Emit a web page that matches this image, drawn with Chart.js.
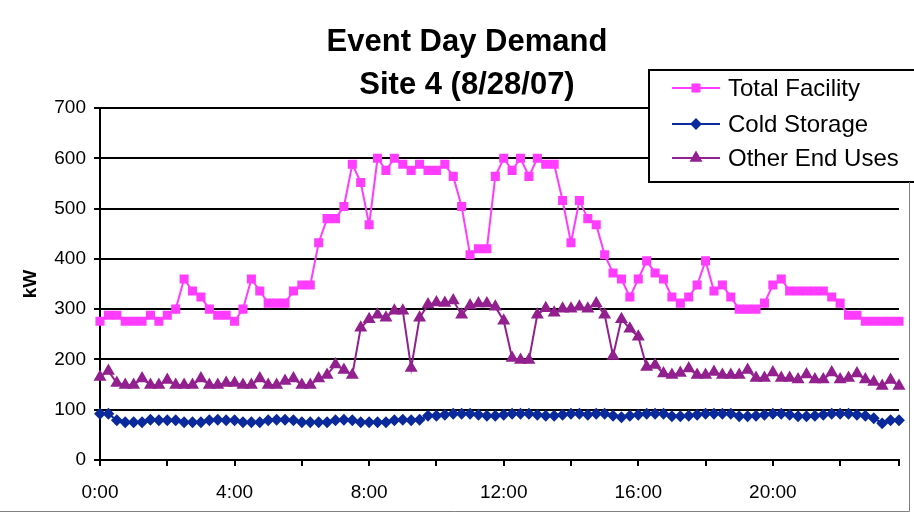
<!DOCTYPE html>
<html>
<head>
<meta charset="utf-8">
<script src="https://cdn.jsdelivr.net/npm/chart.js@4.4.0/dist/chart.umd.min.js"></script>
<style>
  html, body { margin: 0; padding: 0; background: #fff; }
</style>
</head>
<body>
<canvas id="myChart" width="914" height="514"></canvas>
<script>
// 15 minute readings for the event day
const times = [];
for (let h = 0; h < 24; h++) {
  for (let m = 0; m < 60; m += 15) {
    times.push(h + ':' + (m === 0 ? '00' : m));
  }
}

const totalFacility = [
  276, 288, 288, 276, 276, 276, 288, 276, 288, 300, 360, 336, 324, 300, 288, 288,
  276, 300, 360, 336, 312, 312, 312, 336, 348, 348, 432, 480, 480, 504, 588, 552,
  468, 600, 576, 600, 588, 576, 588, 576, 576, 588, 564, 504, 408, 420, 420, 564,
  600, 576, 600, 564, 600, 588, 588, 516, 432, 516, 480, 468, 408, 372, 360, 324,
  360, 396, 372, 360, 324, 312, 324, 348, 396, 336, 348, 324, 300, 300, 300, 312,
  348, 360, 336, 336, 336, 336, 336, 324, 312, 288, 288, 276, 276, 276, 276, 276
];
const coldStorage = [
  92, 92, 79, 75, 75, 75, 80, 79, 79, 79, 75, 75, 75, 79, 80, 79,
  79, 75, 75, 75, 79, 80, 80, 79, 75, 75, 75, 75, 79, 80, 79, 75,
  75, 75, 75, 79, 80, 79, 80, 88, 88, 90, 92, 92, 92, 90, 88, 88,
  90, 92, 92, 92, 90, 88, 88, 90, 92, 92, 90, 92, 92, 88, 85, 88,
  90, 92, 92, 92, 87, 87, 88, 90, 92, 92, 92, 92, 87, 87, 88, 90,
  92, 92, 90, 87, 87, 88, 90, 92, 92, 92, 90, 88, 83, 73, 79, 79
];
const otherEndUses = [
  165, 177, 153, 149, 149, 162, 149, 149, 159, 149, 149, 149, 162, 149, 149, 153,
  153, 149, 149, 162, 149, 149, 157, 162, 149, 149, 162, 169, 190, 179, 169, 263,
  280, 289, 283, 297, 297, 183, 283, 309, 313, 312, 317, 289, 307, 311, 311, 305,
  277, 203, 199, 199, 289, 302, 293, 301, 301, 305, 301, 311, 289, 207, 280, 261,
  245, 185, 189, 172, 169, 173, 182, 169, 169, 175, 169, 169, 169, 179, 163, 163,
  174, 163, 163, 160, 170, 160, 160, 174, 160, 163, 172, 160, 155, 147, 159, 147
];

const titleLines = ['Event Day Demand', 'Site 4 (8/28/07)'];
const font = "'Liberation Sans', Arial, sans-serif";

// title, legend box and outer frame, the way excel draws them
const decorations = {
  id: 'decorations',
  afterDraw(chart) {
    const ctx = chart.ctx;
    ctx.save();
    ctx.fillStyle = '#000';
    ctx.textAlign = 'center';
    ctx.textBaseline = 'middle';
    ctx.font = 'bold 31px ' + font;
    ctx.fillText(titleLines[0], 467, 42);
    ctx.fillText(titleLines[1], 467, 85);

    // legend
    ctx.fillStyle = '#fff';
    ctx.fillRect(649, 70, 265, 112);
    ctx.strokeStyle = '#000';
    ctx.lineWidth = 2;
    ctx.strokeRect(649, 70, 266, 112);
    const rows = [88, 124, 158];
    chart.data.datasets.forEach((ds, i) => {
      const y = rows[i];
      ctx.strokeStyle = ds.borderColor;
      ctx.lineWidth = 2;
      ctx.beginPath();
      ctx.moveTo(672, y);
      ctx.lineTo(720, y);
      ctx.stroke();
      ctx.fillStyle = ds.pointBackgroundColor;
      ctx.strokeStyle = ds.pointBorderColor;
      Chart.helpers.drawPoint(ctx, {
        pointStyle: ds.pointStyle, radius: ds.pointRadius, rotation: 0, borderWidth: 1
      }, 696, y);
      ctx.fillStyle = '#000';
      ctx.textAlign = 'left';
      ctx.font = '24px ' + font;
      ctx.fillText(ds.label, 728, y + 1);
    });

    // frame
    ctx.strokeStyle = '#808080';
    ctx.lineWidth = 1;
    ctx.beginPath();
    ctx.moveTo(909.5, 182);
    ctx.lineTo(909.5, 511.5);
    ctx.lineTo(0, 511.5);
    ctx.stroke();
    ctx.restore();
  }
};

const chartContext = document.getElementById('myChart').getContext('2d');
const myChart = new Chart(chartContext, {
  type: 'line',
  data: {
    labels: times,
    datasets: [{
      label: 'Total Facility',
      data: totalFacility,
      borderColor: '#ff3cff',
      backgroundColor: '#ff3cff',
      pointBackgroundColor: '#ff3cff',
      pointBorderColor: '#ff3cff',
      pointStyle: 'rect',
      pointRadius: 5,
      borderWidth: 2,
      tension: 0
    }, {
      label: 'Cold Storage',
      data: coldStorage,
      borderColor: '#0a2a9c',
      backgroundColor: '#0a2a9c',
      pointBackgroundColor: '#0a2a9c',
      pointBorderColor: '#0a2a9c',
      pointStyle: 'rectRot',
      pointRadius: 4.5,
      borderWidth: 2,
      tension: 0
    }, {
      label: 'Other End Uses',
      data: otherEndUses,
      borderColor: '#93208f',
      backgroundColor: '#93208f',
      pointBackgroundColor: '#93208f',
      pointBorderColor: '#93208f',
      pointStyle: 'triangle',
      pointRadius: 5.5,
      borderWidth: 2,
      tension: 0
    }]
  },
  options: {
    responsive: false,
    animation: false,
    devicePixelRatio: 1,
    layout: { padding: { left: 0, right: 8, top: 108, bottom: 0 } },
    plugins: {
      legend: { display: false },
      title: { display: false },
      tooltip: { enabled: false }
    },
    scales: {
      x: {
        offset: false,
        afterFit(scale) { scale.height = 54; },
        border: { display: true, color: '#000', width: 2 },
        grid: {
          drawOnChartArea: false,
          drawTicks: true,
          tickLength: 6,
          lineWidth: 2,
          color: (c) => (c.index % 8 === 0 || c.index === times.length - 1) ? '#000' : 'rgba(0,0,0,0)'
        },
        ticks: {
          autoSkip: false,
          maxRotation: 0,
          padding: 15,
          color: '#000',
          font: { family: font, size: 19 },
          callback: function (value, index) {
            return index % 16 === 0 ? times[index] : '';
          }
        }
      },
      y: {
        min: 0,
        max: 700,
        afterFit(scale) { scale.width = 100; },
        border: { display: true, color: '#000', width: 2 },
        grid: {
          color: '#000',
          lineWidth: 2,
          drawTicks: true,
          tickLength: 6
        },
        ticks: {
          stepSize: 100,
          padding: 8,
          color: '#000',
          font: { family: font, size: 19 }
        },
        title: {
          display: true,
          text: 'kW',
          color: '#000',
          font: { family: font, size: 19, weight: 'bold' },
          padding: { top: 19, bottom: 0 }
        }
      }
    }
  },
  plugins: [decorations]
});
</script>
</body>
</html>
